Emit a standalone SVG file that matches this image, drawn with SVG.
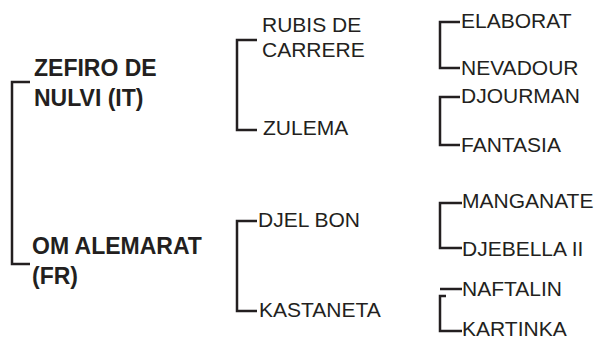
<svg xmlns="http://www.w3.org/2000/svg" width="597" height="342" viewBox="0 0 597 342">
<style>
.t{font-family:"Liberation Sans",Arial,sans-serif;font-size:21px;fill:#231f20}
.b{font-family:"Liberation Sans",Arial,sans-serif;font-size:23px;font-weight:bold;fill:#231f20}
.c{fill:none;stroke:#231f20;stroke-width:2.5}
</style>
<rect width="597" height="342" fill="#fff"/>
<g id="connectors">
<path class="c" d="M30,82 H12 V264 H30"/>
<path class="c" d="M257,40 H237 V130 H257"/>
<path class="c" d="M257,221 H237 V311 H257"/>
<path class="c" d="M460,22 H440 V68 H460"/>
<path class="c" d="M460,97 H440 V145 H460"/>
<path class="c" d="M462,203 H440 V248 H462"/>
<path class="c" d="M440,289 H462"/>
<path class="c" d="M446,296 H440 V331 H462"/>
</g>
<g id="zefiro"><text class="b" x="34" y="76">ZEFIRO DE</text><text class="b" x="34" y="106">NULVI (IT)</text></g>
<g id="om"><text class="b" x="32" y="254">OM ALEMARAT</text><text class="b" x="32" y="284">(FR)</text></g>
<g id="rubis"><text class="t" x="262" y="32">RUBIS DE</text><text class="t" x="262" y="57">CARRERE</text></g>
<g id="zulema"><text class="t" x="263" y="135">ZULEMA</text></g>
<g id="djelbon"><text class="t" x="258" y="227">DJEL BON</text></g>
<g id="kastaneta"><text class="t" x="259" y="317">KASTANETA</text></g>
<g id="elaborat"><text class="t" x="461" y="28">ELABORAT</text></g>
<g id="nevadour"><text class="t" x="461" y="75">NEVADOUR</text></g>
<g id="djourman"><text class="t" x="461" y="103">DJOURMAN</text></g>
<g id="fantasia"><text class="t" x="461" y="152">FANTASIA</text></g>
<g id="manganate"><text class="t" x="462" y="208">MANGANATE</text></g>
<g id="djebella"><text class="t" x="462" y="256">DJEBELLA II</text></g>
<g id="naftalin"><text class="t" x="462" y="296">NAFTALIN</text></g>
<g id="kartinka"><text class="t" x="462" y="336">KARTINKA</text></g>
</svg>
